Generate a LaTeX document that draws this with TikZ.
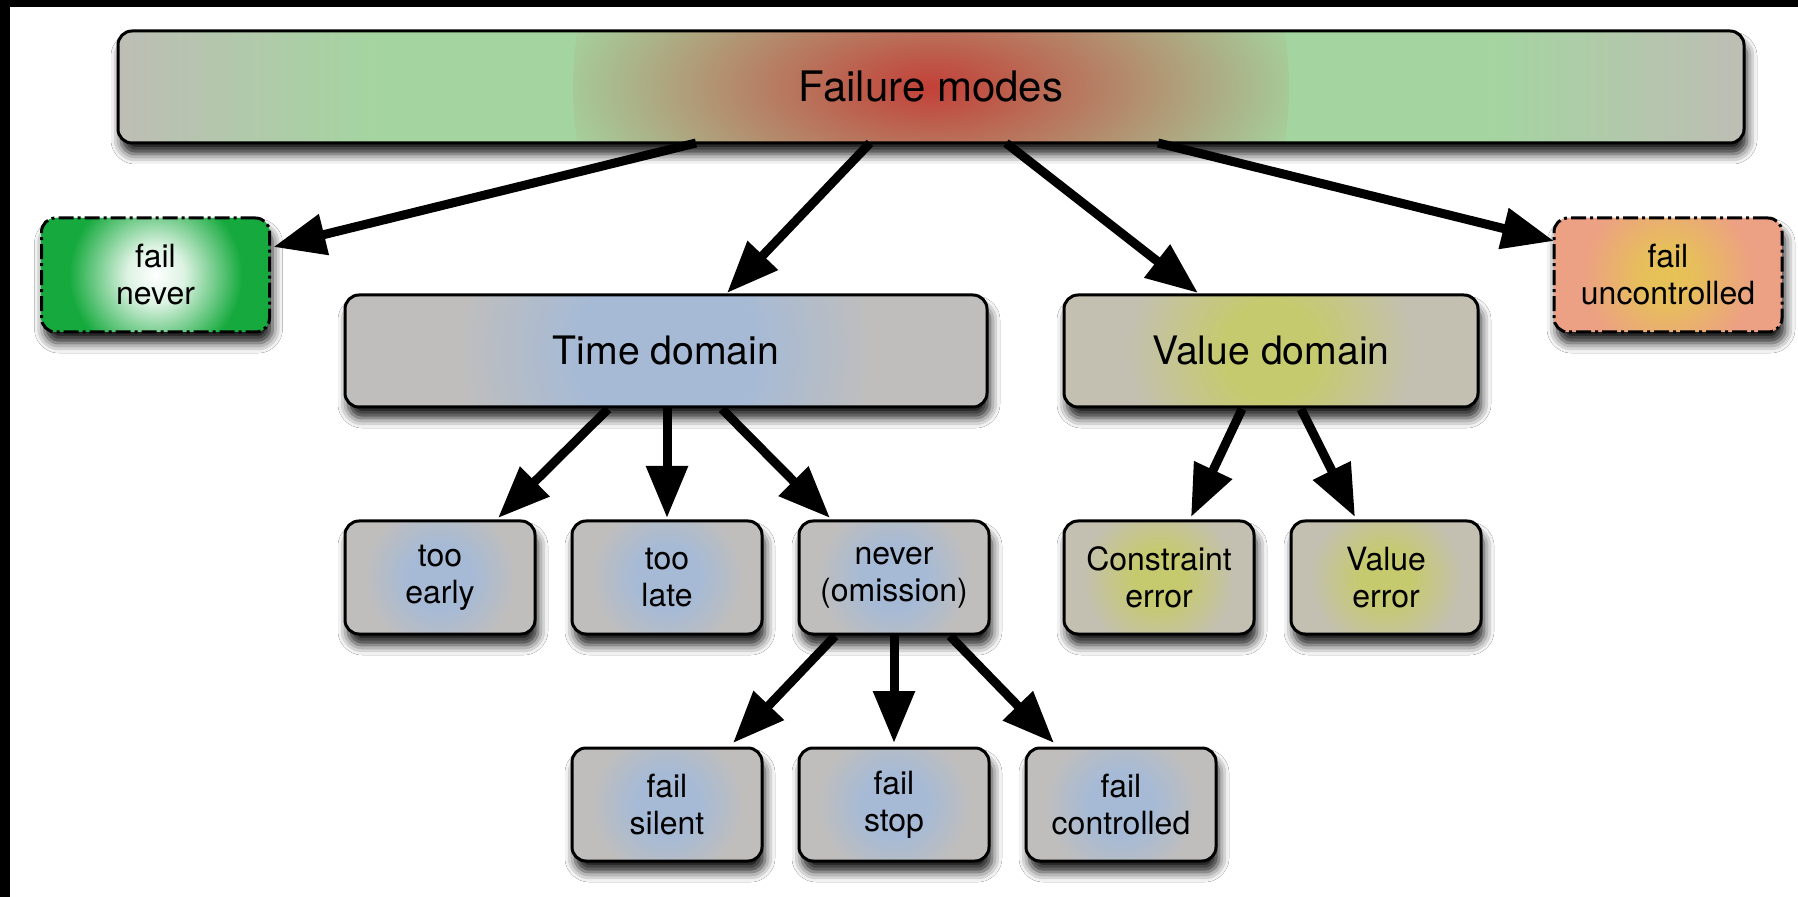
\documentclass[tikz,border=0pt]{standalone}
\usepackage{fontspec}
\setmainfont{TeX Gyre Heros}
\usetikzlibrary{arrows.meta,positioning,calc,shadows.blur}

\definecolor{edgegray}{RGB}{190,189,181}
\definecolor{leafgreen}{RGB}{164,213,160}
\definecolor{hotred}{RGB}{195,64,56}
\definecolor{timeblue}{RGB}{166,186,214}
\definecolor{timegray}{RGB}{192,190,188}
\definecolor{valolive}{RGB}{198,202,110}
\definecolor{valgray}{RGB}{195,192,178}
\definecolor{okgreen}{RGB}{22,170,62}
\definecolor{badyellow}{RGB}{230,195,85}
\definecolor{badsalmon}{RGB}{236,160,132}

\pgfdeclarehorizontalshading{modeshade}{100bp}{color(0bp)=(edgegray); color(25bp)=(edgegray); color(33bp)=(leafgreen); color(67bp)=(leafgreen); color(75bp)=(edgegray); color(100bp)=(edgegray)}
\pgfdeclareradialshading{modeglow}{\pgfpointorigin}{color(0bp)=(hotred); color(12bp)=(leafgreen); color(50bp)=(leafgreen)}
\pgfdeclareradialshading{timeglow}{\pgfpointorigin}{color(0bp)=(timeblue); color(5bp)=(timeblue); color(12bp)=(timegray); color(50bp)=(timegray)}
\pgfdeclareradialshading{valueglow}{\pgfpointorigin}{color(0bp)=(valolive); color(4bp)=(valolive); color(12bp)=(valgray); color(50bp)=(valgray)}
\pgfdeclareradialshading{safeglow}{\pgfpointorigin}{color(0bp)=(white); color(4bp)=(white!85!okgreen); color(12bp)=(okgreen); color(50bp)=(okgreen)}
\pgfdeclareradialshading{unsafeglow}{\pgfpointorigin}{color(0bp)=(badyellow); color(4bp)=(badyellow!85!badsalmon); color(12bp)=(badsalmon); color(50bp)=(badsalmon)}

\tikzset{
  box/.style={draw=black, line width=1.5pt, rounded corners=7pt, align=center, outer sep=0pt, inner sep=0pt,
    blur shadow={shadow xshift=1.5pt, shadow yshift=-5.5pt, shadow blur radius=5pt, shadow opacity=90}},
  glow/.style n args={3}{fill=#2, path picture={\shade[shading=#1] (path picture bounding box.center) circle (#3);}},
  modes/.style={box, minimum width=813pt, minimum height=56pt, shading=modeshade, font=\fontsize{21}{25}\selectfont,
    path picture={\shade[shading=modeglow] (path picture bounding box.center) circle (179pt);}},
  branchbox/.style={box, minimum height=56pt, font=\fontsize{19.6}{23}\selectfont},
  timebox/.style={branchbox, glow={timeglow}{timegray}{#1}},
  valuebox/.style={branchbox, glow={valueglow}{valgray}{#1}},
  leaf/.style={box, minimum width=95pt, minimum height=56.5pt, font=\fontsize{16}{18.5}\selectfont},
  timeleaf/.style={leaf, glow={timeglow}{timegray}{80pt}},
  valueleaf/.style={leaf, glow={valueglow}{valgray}{80pt}},
  endbox/.style={box, minimum width=114pt, minimum height=57pt, font=\fontsize{16}{18.5}\selectfont,
    dash pattern=on 7.5pt off 2pt on 1.5pt off 2pt},
  safebox/.style={endbox, glow={safeglow}{okgreen}{90pt}},
  unsafebox/.style={endbox, glow={unsafeglow}{badsalmon}{90pt}},
  arrow/.style={-{Triangle[length=26pt, width=20pt]}, line width=4.5pt},
}

\begin{document}
\begin{tikzpicture}[x=0.5pt, y=-0.5pt]
  \useasboundingbox (0,0) rectangle (1798,897);
  \fill[white] (0,0) rectangle (1798,897);
  \fill[black] (0,0) rectangle (10,897);
  \fill[black] (0,0) rectangle (1798,7);

  \node[modes] (modes) at (931,87) {Failure modes};
  \node[safebox] (never) at (155.5,275) {fail\\never};
  \node[unsafebox] (uncontrolled) at (1668,275) {fail\\uncontrolled};

  \node[timebox=220pt, minimum width=321pt] (time) at (666,351) {Time domain};
  \node[valuebox=150pt, minimum width=207pt] (value) at (1271,351) {Value domain};

  \node[timeleaf, below=57pt of time.south west, anchor=north west] (early) {too\\early};
  \node[timeleaf, right=18.5pt of early] (late) {too\\late};
  \node[timeleaf, right=18.5pt of late] (omission) {never\\(omission)};

  \node[valueleaf, below=57pt of value.south west, anchor=north west] (constraint) {Constraint\\error};
  \node[valueleaf, right=18.5pt of constraint] (valerr) {Value\\error};

  \node[timeleaf, below=57pt of omission] (stop) {fail\\stop};
  \node[timeleaf, left=18.5pt of stop] (silent) {fail\\silent};
  \node[timeleaf, right=18.5pt of stop] (controlled) {fail\\controlled};

  \draw[arrow] ($(modes.south)+(-235,0)$) -- ($(never.east)+(4,-28)$);
  \draw[arrow] ($(modes.south)+(-61,0)$) -- ($(time.north)+(61,-2)$);
  \draw[arrow] ($(modes.south)+(75,0)$) -- ($(value.north)+(-73,-2)$);
  \draw[arrow] ($(modes.south)+(227,0)$) -- ($(uncontrolled.west)+(0,-34)$);

  \draw[arrow] ($(time.south)+(-58,2)$) -- ($(early.north)+(58,-3)$);
  \draw[arrow] (late.north |- time.south) -- ($(late.north)+(0,-3)$);
  \draw[arrow] ($(time.south)+(56,2)$) -- ($(omission.north)+(-64,-3)$);

  \draw[arrow] ($(value.south)+(-29,2)$) -- ($(constraint.north)+(32,-4)$);
  \draw[arrow] ($(value.south)+(30,2)$) -- ($(valerr.north)+(-31,-4)$);

  \draw[arrow] ($(omission.south)+(-59,2)$) -- ($(silent.north)+(66,-5)$);
  \draw[arrow] (omission.south) -- ($(stop.north)+(0,-5)$);
  \draw[arrow] ($(omission.south)+(56,2)$) -- ($(controlled.north)+(-67,-5)$);
\end{tikzpicture}
\end{document}
